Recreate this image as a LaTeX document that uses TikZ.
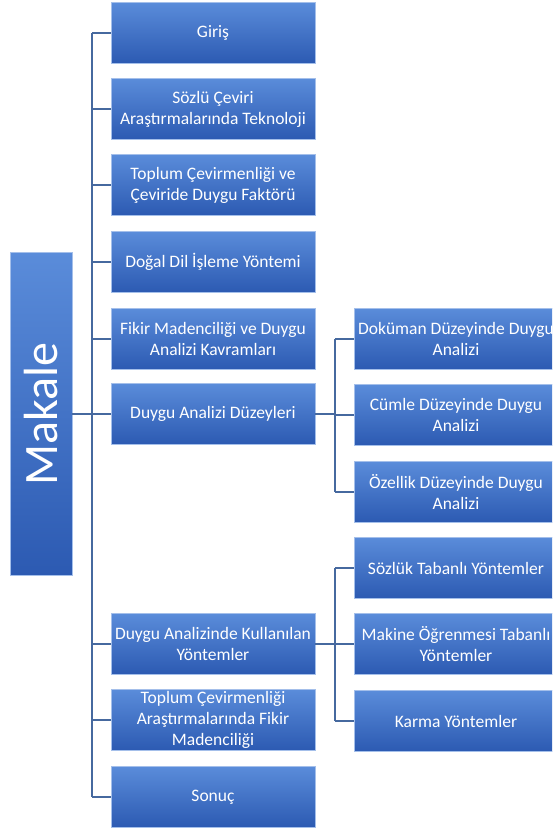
\documentclass[tikz,border=0pt]{standalone}
\usepackage{fontspec}
\setmainfont{Carlito}
\definecolor{boxtop}{HTML}{5A8CDA}
\definecolor{boxbot}{HTML}{2C5AB2}
\definecolor{boxedge}{HTML}{A4BFEA}
\definecolor{conn}{HTML}{46699F}
\begin{document}
\begin{tikzpicture}[x=1pt,y=-1pt,
  box/.style={draw=boxedge, line width=0.8pt, top color=boxtop, bottom color=boxbot,
    minimum width=204pt, minimum height=61pt, inner sep=1pt,
    align=center, text=white, font=\fontsize{17.5}{21}\selectfont},
  connline/.style={draw=conn, line width=1.4pt}]
\useasboundingbox (0,0) rectangle (552,832);
\clip (0,0) rectangle (552,832);
\node[box, minimum width=62pt, minimum height=323pt, font=\fontsize{48}{52}\selectfont] (makale) at (41,414) {\rotatebox{90}{Makale}};
\node[box] (giris) at (213,33) {Giriş};
\node[box] (sozlu) at (213,109) {Sözlü Çeviri\\Araştırmalarında Teknoloji};
\node[box] (toplum) at (213,185) {Toplum Çevirmenliği ve\\Çeviride Duygu Faktörü};
\node[box] (dogal) at (213,262) {Doğal Dil İşleme Yöntemi};
\node[box] (fikir) at (213,339) {Fikir Madenciliği ve Duygu\\Analizi Kavramları};
\node[box] (duzey) at (213,414) {Duygu Analizi Düzeyleri};
\node[box] (kullan) at (213,644) {Duygu Analizinde Kullanılan\\Yöntemler};
\node[box] (toplumfm) at (213,720) {Toplum Çevirmenliği\\Araştırmalarında Fikir\\Madenciliği};
\node[box] (sonuc) at (213,797) {Sonuç};
\node[box] (dokuman) at (456,339) {Doküman Düzeyinde Duygu\\Analizi};
\node[box] (cumle) at (456,415) {Cümle Düzeyinde Duygu\\Analizi};
\node[box] (ozellik) at (456,492) {Özellik Düzeyinde Duygu\\Analizi};
\node[box] (sozluk) at (456,568) {Sözlük Tabanlı Yöntemler};
\node[box] (makine) at (456,644) {Makine Öğrenmesi Tabanlı\\Yöntemler};
\node[box] (karma) at (456,721) {Karma Yöntemler};
\coordinate (ttop) at (92,33);
\coordinate (tbot) at (92,797);
\coordinate (aTop) at (335,339);
\coordinate (aBot) at (335,492);
\coordinate (bTop) at (335,568);
\coordinate (bBot) at (335,721);
\draw[connline] (ttop) -- (tbot);
\draw[connline] (makale.east) -- (makale.east -| ttop);
\foreach \n in {giris,sozlu,toplum,dogal,fikir,duzey,kullan,toplumfm,sonuc}
  \draw[connline] (\n.west -| ttop) -- (\n.west);
\draw[connline] (aTop) -- (aBot);
\draw[connline] (duzey.east) -- (duzey.east -| aTop);
\foreach \n in {dokuman,cumle,ozellik}
  \draw[connline] (\n.west -| aTop) -- (\n.west);
\draw[connline] (bTop) -- (bBot);
\draw[connline] (kullan.east) -- (kullan.east -| bTop);
\foreach \n in {sozluk,makine,karma}
  \draw[connline] (\n.west -| bTop) -- (\n.west);
\end{tikzpicture}
\end{document}
